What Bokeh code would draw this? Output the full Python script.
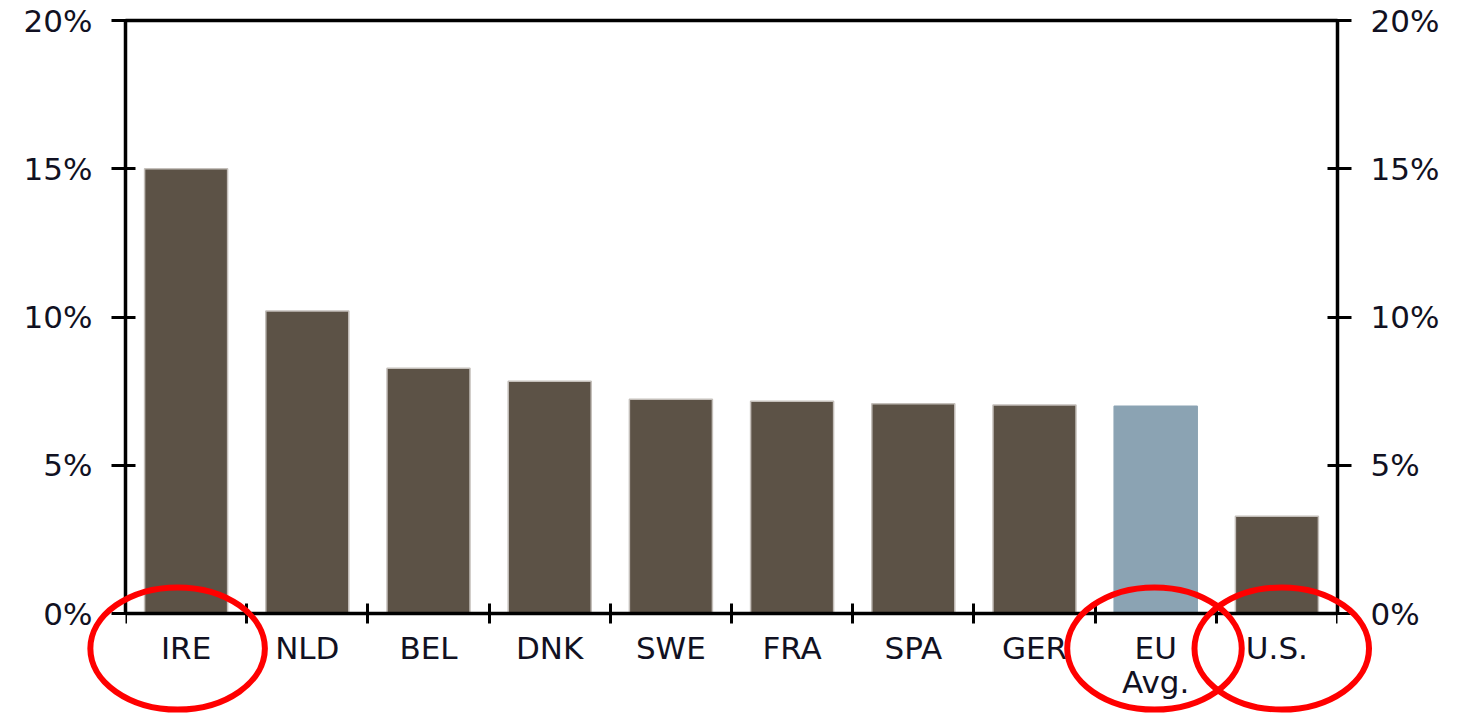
from bokeh.plotting import figure
from bokeh.models import (ColumnDataSource, FixedTicker, LinearAxis, PrintfTickFormatter, Range1d)
from bokeh.embed import file_html
from bokeh.resources import INLINE

categories = ["IRE", "NLD", "BEL", "DNK", "SWE", "FRA", "SPA", "GER", "EU\nAvg.", "U.S."]
values = [15.0, 10.2, 8.27, 7.83, 7.23, 7.16, 7.07, 7.03, 6.99, 3.28]
colors = ["#5C5246"] * 8 + ["#8BA3B3", "#5C5246"]
edge_colors = ["#C4BFBA"] * 8 + ["#8BA3B3", "#C4BFBA"]
y_ticks = [0, 5, 10, 15, 20]
circled = ["IRE", "EU\nAvg.", "U.S."]
circle_offsets = [-0.07, -0.01, 0.04]  # ellipse centre offset from category centre

positions = list(range(1, len(categories) + 1))
boundaries = [p - 0.5 for p in positions] + [positions[-1] + 0.5]

FONT = "DejaVu Sans"
FS = "31px"
W, H = 1443, 715
TOP, BOTTOM_OF_ZERO = 20, 613
px_per_unit = (BOTTOM_OF_ZERO - TOP) / 20.0
y_start = -(H - BOTTOM_OF_ZERO) / px_per_unit

p = figure(width=W, height=H, output_backend="svg", toolbar_location=None,
           x_range=Range1d(0.5, len(categories) + 0.5), y_range=Range1d(y_start, 20),
           min_border_left=125, min_border_right=W - 1337, min_border_top=TOP, min_border_bottom=0)

p.grid.visible = False
p.background_fill_color = "white"
p.border_fill_color = "white"
p.outline_line_color = None

src = ColumnDataSource(dict(x=positions, top=values, color=colors, edge=edge_colors))
p.vbar(x="x", top="top", width=0.685, bottom=0, source=src, fill_color="color",
       line_color="edge", line_width=1.5)

# x axis, anchored at 0
xa = p.xaxis[0]
xa.fixed_location = 0
xa.ticker = FixedTicker(ticks=positions, minor_ticks=boundaries)
xa.major_label_overrides = {pos: lab for pos, lab in zip(positions, categories)}
xa.major_tick_line_color = None
xa.minor_tick_line_color = "black"
xa.minor_tick_line_width = 3
xa.minor_tick_in = 10
xa.minor_tick_out = 10
xa.axis_line_width = 3.5
xa.axis_line_color = "black"
xa.major_label_text_font = FONT
xa.major_label_text_font_size = FS
xa.major_label_text_color = "#111122"
xa.major_label_text_line_height = 0.95
xa.major_label_standoff = 6

# top frame line
top_ax = LinearAxis(ticker=FixedTicker(ticks=[]), axis_line_width=3.5, axis_line_color="black",
                    major_tick_line_color=None, minor_tick_line_color=None)
p.add_layout(top_ax, "above")

# y axes
def style_y(ax):
    ax.ticker = FixedTicker(ticks=y_ticks)
    ax.bounds = (0, 20)
    ax.formatter = PrintfTickFormatter(format="%d%%")
    ax.major_tick_in = 10
    ax.major_tick_out = 14
    ax.major_tick_line_width = 3
    ax.minor_tick_line_color = None
    ax.axis_line_width = 3.5
    ax.major_label_text_font = FONT
    ax.major_label_text_font_size = FS
    ax.major_label_text_color = "#111122"
    ax.major_label_standoff = 19

style_y(p.yaxis[0])
ra = LinearAxis()
style_y(ra)
p.add_layout(ra, "right")

# red ellipses around selected labels
ex = [positions[categories.index(n)] + o for n, o in zip(circled, circle_offsets)]
esrc = ColumnDataSource(dict(x=ex, y=[-1.18] * len(ex)))
r = p.ellipse(x="x", y="y", width=1.44, height=4.12, source=esrc,
              fill_alpha=0, line_color="#FF0000", line_width=6)
r.level = "overlay"

open("out.html", "w").write(file_html(p, INLINE))
